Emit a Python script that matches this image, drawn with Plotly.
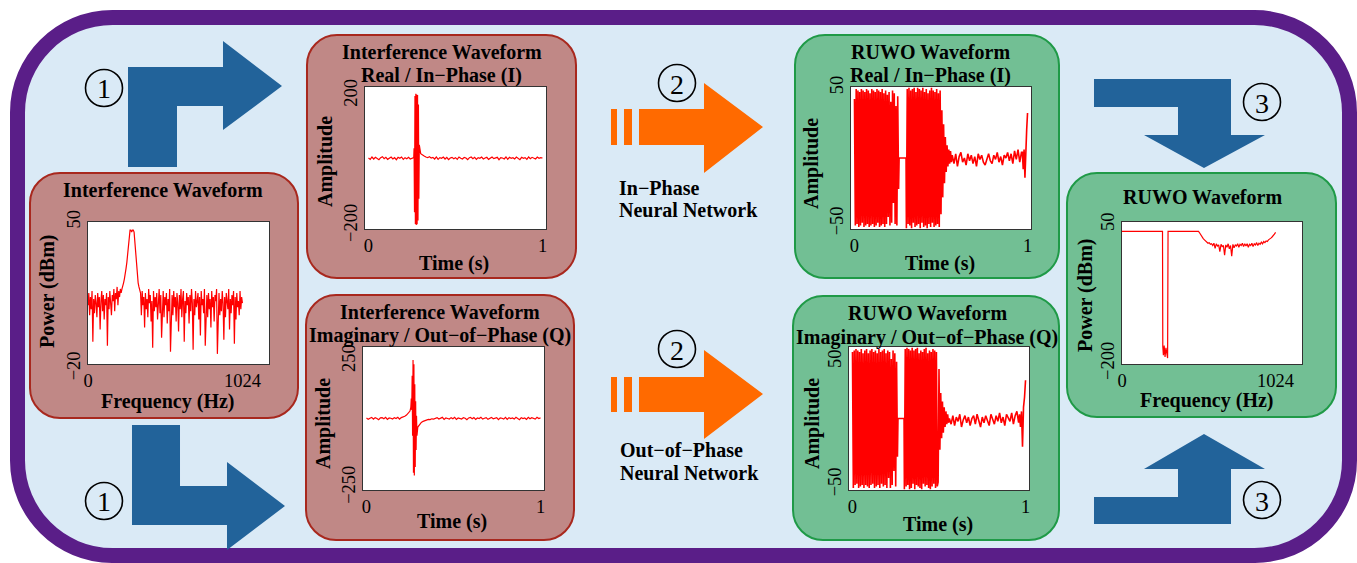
import numpy as np
import plotly.graph_objects as go

W, H = 1357, 563

# ---------------- data ----------------
# Interference spectrum (dBm) over 0..1024 Hz
spec_in_db = [
    9, 15, 4, 13, 7, 16, -9, 12, 5, 14,
    10, 3, 15, 8, 13, -3, 11, 16, 6, 14,
    2, 12, 9, 15, -11, 13, 7, 16, 10, 4,
    14, 11, 17, 6, 15, 12, 18, 9, 16, 13,
    17, 15,
    17, 18, 20, 22, 24, 27, 30, 34, 39, 44,
    46, 46, 45, 46, 46, 45,
    40, 33, 27, 23, 20, 18, 16, 15,
    4, 16, 9, 13, -2, 15, 7, 12, 3, 17,
    10, 14, 1, 11, -12, 16, 6, 13, 8, 15,
    2, 12, 17, 5, 14, -7, 10, 16, 3, 13,
    9, 15, 0, 12, 6, 17, -14, 11, 14, 4,
    16, 8, 13, 1, 15, 10, -4, 14, 7, 17,
    3, 12, 16, -9, 11, 5, 15, 9, 13, 0,
    14, 6, 17, 10, -13, 12, 4, 16, 8, 11,
    15, 2, 13, -6, 16, 9, 12, 5, 17, -11,
    10, 14, 3, 15, 7, 12, -2, 16, 8, 13,
    1, 14, 11, 17, -15, 9, 15, 4, 12, 6,
    16, 10, -8, 13, 3, 15, 11, 7, 17, -3,
    12, 5, 14, 9, 16, -10, 13, 2, 15, 8,
    11, 4, 16, 7, 13, 10,
]
spec_in_freq = np.linspace(0, 1024, len(spec_in_db))

# Interference waveform, in-phase (I)
intI_pre = [1, -3, 4, -2, 3, 0, -4, 2, 5, -1, 3, -3, 1, 4, -2, 2, -4, 3, 0, 4,
            -3, 2, -1, 3, -2, 1, 2]
intI_burst = [30, -160, 185, -195, 192, -198, 190, -196, 188, -185, 160, -120, 40]
intI_post = [14, 9, 7, 4, 2, 5, 1, 3, -2, 4,
             -3, 2, 0, 4, -2, 3, -4, 1, 3, -1,
             2, -3, 4, 0, -2, 3, 1, -4, 2, 4,
             -1, 3, -3, 2, 0, 4, -2, 1, 3, -3,
             2, 4, -1, 0, 3, -4, 2, 1, -2, 4,
             -3, 3, 0, 2, -2, 4, 1, -4, 3, 0,
             2, -3, 4, -1, 3, 1, -2, 4, 0, 2, 1]
intI_t = np.concatenate([np.linspace(0, 0.26, len(intI_pre)),
                         np.linspace(0.262, 0.292, len(intI_burst)),
                         np.linspace(0.30, 1.0, len(intI_post))])
intI_amp = intI_pre + intI_burst + intI_post

# Interference waveform, out-of-phase (Q)
intQ_pre = [2, -3, 1, 4, -2, 3, 0, -4, 2, 3, -1, 4, -3, 2, 1, -2, 3, 0, 4, -2,
            3, 5, 8, 12, 18, 26]
intQ_burst = [40, 70, 30, 150, -60, 205, -190, 190, -200, 120, -170, 60, -110, 10, -60]
intQ_post = [-30, -20, -14, -10, -7, -5, -3, -4, -1, -2,
             0, 3, -2, 1, 4, -3, 2, 0, -2, 3,
             -1, 4, -3, 2, 0, -2, 3, 1, -4, 2,
             4, -1, 3, -3, 2, 0, 4, -2, 1, 3,
             -3, 2, 4, -1, 0, 3, -4, 2, 1, -2,
             4, -3, 3, 0, 2, -2, 4, 1, -4, 3,
             0, 2, -3, 4, -1, 3, 1, -2, 4, 0, 2]
intQ_t = np.concatenate([np.linspace(0, 0.25, len(intQ_pre)),
                         np.linspace(0.255, 0.29, len(intQ_burst)),
                         np.linspace(0.295, 1.0, len(intQ_post))])
intQ_amp = intQ_pre + intQ_burst + intQ_post

# RUWO waveform, in-phase (I)
ruwoI_a = [42, -48, 49, -47, 48, -49, 47, -48, 49, -46,
           48, -49, 47, -48, 49, -47, 48, -49, 46, -48,
           49, -47, 48, -49, 47, -48, 49, -46, 48, -49,
           47, -48, 49, -47, 46, -49, 48, -47, 45, -42,
           47, -48, 40, -46, 48, -32, 46, -47, 37, -48,
           44, -22]
ruwoI_gap = [0, 0]
ruwoI_b = [-50, 49, -47, 50, -48, 48, -50, 49, -46, 50,
           -49, 47, -48, 50, -47, 49, -50, 48, -46, 50,
           -49, 47, -48, 49, -50, 46, -47, 48, -49, 50,
           -46, 48, -49, 47, -48, 49, -47, 46, -49, 48]
ruwoI_decay = [-40, 34, -28, 24, -18, 15, -10, 9, -6, 6, -4, 5, -3]
ruwoI_noise = [2, -4, 3, -6, 1, 4, -3, 0, -5, 3,
               -2, 2, -4, 1, -6, 3, -1, 2, -3, -5,
               0, 3, -2, -4, 2, -1, 4, -3, 1, -5,
               2, 0, 4, -2, 3, -4, 5, -1, 6, -3, 4]
ruwoI_end = [4, -8, 6, -14, 12, 20, 32]
ruwoI_t = np.concatenate([np.linspace(0, 0.255, len(ruwoI_a)),
                          [0.258, 0.298],
                          np.linspace(0.30, 0.495, len(ruwoI_b)),
                          np.linspace(0.50, 0.56, len(ruwoI_decay)),
                          np.linspace(0.565, 0.965, len(ruwoI_noise)),
                          np.linspace(0.97, 1.0, len(ruwoI_end))])
ruwoI_amp = ruwoI_a + ruwoI_gap + ruwoI_b + ruwoI_decay + ruwoI_noise + ruwoI_end

# RUWO waveform, out-of-phase (Q)
ruwoQ_a = [47, -49, 48, -47, 49, -46, 48, -49, 47, -48,
           49, -47, 46, -49, 48, -47, 49, -48, 46, -49,
           48, -47, 49, -46, 47, -49, 48, -48, 46, -47,
           49, -49, 47, -46, 48, -48, 49, -47, 46, -49,
           48, -42, 47, -49, 42, -47, 48, -37, 46, -48,
           40, -27]
ruwoQ_gap = [0, 0]
ruwoQ_b = [-50, 49, -48, 50, -47, 49, -50, 48, -49, 50,
           -46, 48, -50, 49, -47, 50, -48, 46, -49, 48,
           -50, 47, -46, 49, -48, 50, -47, 46, -49, 48,
           -50, 47, -48, 49, -46, 48, -49, 47, -48]
ruwoQ_decay = [-45, 35, -22, 18, -14, 12, -10, 8, -6, 5, -4, 3, -3]
ruwoQ_noise = [0, -4, 2, -5, 1, -2, 3, -6, -1, 2,
               -3, 1, -5, 0, 2, -4, 3, -2, -6, 1,
               -3, 2, -1, -5, 3, 0, -4, 2, -2, 4,
               -3, 1, -5, 3, 0, -2, 4, -4, 2, 5, -3]
ruwoQ_end = [3, -6, 5, -20, 8, 15, 27]
ruwoQ_t = np.concatenate([np.linspace(0, 0.26, len(ruwoQ_a)),
                          [0.263, 0.298],
                          np.linspace(0.30, 0.49, len(ruwoQ_b)),
                          np.linspace(0.495, 0.555, len(ruwoQ_decay)),
                          np.linspace(0.56, 0.96, len(ruwoQ_noise)),
                          np.linspace(0.965, 1.0, len(ruwoQ_end))])
ruwoQ_amp = ruwoQ_a + ruwoQ_gap + ruwoQ_b + ruwoQ_decay + ruwoQ_noise + ruwoQ_end

# RUWO spectrum
ruwo_notch_f = [0, 270, 272, 276, 281, 287, 293, 299, 304, 307, 505]
ruwo_notch_db = [34, 34, -170, -185, -168, -188, -172, -180, -190, 34, 34]
ruwo_bowl_db = [34, 31, 27, 24, 21, 19, 17, 15, 13, 14,
                11, 12, 9, 13, 4, 12, 8, 10, -2, 11,
                7, 9, -8, 10, 6, 12, 3, 9, -10, 11,
                5, 10, 8, 12, 6, 11, 9, 13, 7, 12,
                8, 12, 6, 11, 9, 13, 7, 12, 10, 14,
                9, 13, 11, 15, 12, 16, 14, 17, 16, 19,
                20, 22, 24, 26, 29, 32]
ruwo_spec_f = np.concatenate([ruwo_notch_f, np.linspace(510, 1024, len(ruwo_bowl_db))])
ruwo_spec_db = ruwo_notch_db + ruwo_bowl_db

# ---------------- styling ----------------
FONT = "Liberation Serif, Times New Roman, serif"
PURPLE = "#5A1E88"
BG_BLUE = "#DAEAF6"
RED_FILL = "#C08886"
RED_LINE = "#A8281E"
GREEN_FILL = "#72BF94"
GREEN_LINE = "#1F9A47"
BLUE = "#22639A"
ORANGE = "#FF6A00"
NB = "\u00a0"


def px(x):
    return x / W


def py(y):
    return 1 - y / H


def rrect(x0, y0, x1, y1, r):
    k = 0.5523 * r
    P = lambda x, y: f"{px(x):.5f},{py(y):.5f}"
    return (f"M {P(x0 + r, y0)} L {P(x1 - r, y0)} "
            f"C {P(x1 - r + k, y0)} {P(x1, y0 + r - k)} {P(x1, y0 + r)} "
            f"L {P(x1, y1 - r)} C {P(x1, y1 - r + k)} {P(x1 - r + k, y1)} {P(x1 - r, y1)} "
            f"L {P(x0 + r, y1)} C {P(x0 + r - k, y1)} {P(x0, y1 - r + k)} {P(x0, y1 - r)} "
            f"L {P(x0, y0 + r)} C {P(x0, y0 + r - k)} {P(x0 + r - k, y0)} {P(x0 + r, y0)} Z")


def poly(pts):
    s = " L ".join(f"{px(x):.5f},{py(y):.5f}" for x, y in pts)
    return f"M {s} Z"


shapes = []
# outer frame
shapes.append(dict(type="path", path=rrect(17.5, 17.5, 1349.5, 555.5, 95), xref="paper", yref="paper",
                   fillcolor=BG_BLUE, line=dict(color=PURPLE, width=15), layer="below"))

boxes = [
    (30, 173, 298, 418, RED_FILL, RED_LINE),
    (307, 35, 576, 278, RED_FILL, RED_LINE),
    (306, 295, 574, 540, RED_FILL, RED_LINE),
    (795, 35, 1059, 278, GREEN_FILL, GREEN_LINE),
    (793, 296, 1059, 540, GREEN_FILL, GREEN_LINE),
    (1067, 173, 1336, 417, GREEN_FILL, GREEN_LINE),
]
for x0, y0, x1, y1, fc, lc in boxes:
    shapes.append(dict(type="path", path=rrect(x0, y0, x1, y1, 30), xref="paper", yref="paper",
                       fillcolor=fc, line=dict(color=lc, width=2), layer="below"))

# plot areas (px): x0, x1, y0, y1
areas = [
    (88, 269, 222, 364),
    (365, 546, 87, 229),
    (363, 544, 347, 490),
    (851, 1031, 87, 229),
    (849, 1029, 347, 490),
    (1122, 1302, 222, 364),
]
for x0, x1, y0, y1 in areas:
    shapes.append(dict(type="rect", x0=px(x0), x1=px(x1), y0=py(y1), y1=py(y0), xref="paper", yref="paper",
                       fillcolor="white", line=dict(width=0), layer="below"))

# blue L-arrows
blue_arrows = [
    [(128, 167), (128, 67), (223, 67), (223, 41), (282, 86), (223, 130), (223, 106), (177, 106), (177, 167)],
    [(132, 425), (180, 425), (180, 486), (227, 486), (227, 462), (285, 506), (227, 550), (227, 525), (132, 525)],
    [(1094, 79), (1231, 79), (1231, 135), (1265, 135), (1204, 168), (1144, 135), (1178, 135), (1178, 107), (1094, 107)],
    [(1094, 524), (1231, 524), (1231, 469), (1265, 469), (1204, 434), (1144, 469), (1178, 469), (1178, 497), (1094, 497)],
]
for a in blue_arrows:
    shapes.append(dict(type="path", path=poly(a), xref="paper", yref="paper",
                       fillcolor=BLUE, line=dict(width=0), layer="below"))

# orange arrows
for yt, yb, hy0, hy1, tip in [(109, 145, 83, 173, 127), (377, 412, 350, 439, 394)]:
    for bx0, bx1 in [(611, 617), (624, 632)]:
        shapes.append(dict(type="rect", x0=px(bx0), x1=px(bx1), y0=py(yb), y1=py(yt), xref="paper", yref="paper",
                           fillcolor=ORANGE, line=dict(width=0), layer="below"))
    shapes.append(dict(type="path", xref="paper", yref="paper", fillcolor=ORANGE, line=dict(width=0), layer="below",
                       path=poly([(639, yt), (704, yt), (704, hy0), (763, tip), (704, hy1), (704, yb), (639, yb)])))

annotations = []
# circled step numbers
for cx, cy, num in [(104, 88, "1"), (104, 501, "1"), (677, 83, "2"), (677, 349, "2"),
                    (1262, 102, "3"), (1262, 500, "3")]:
    r = 18.5
    shapes.append(dict(type="circle", x0=px(cx - r), x1=px(cx + r), y0=py(cy + r), y1=py(cy - r),
                       xref="paper", yref="paper", line=dict(color="black", width=1.6), layer="below"))
    annotations.append(dict(text=num, x=px(cx), y=py(cy + 1), xref="paper", yref="paper", showarrow=False,
                            xanchor="center", yanchor="middle",
                            font=dict(family=FONT, size=28, color="black")))


def label(text, x, y, angle=0, anchor="center", size=20):
    annotations.append(dict(text=text, x=px(x), y=py(y), xref="paper", yref="paper", showarrow=False,
                            xanchor=anchor, yanchor="middle", textangle=angle,
                            font=dict(family=FONT, size=size, color="black", weight="bold")))


label("Interference Waveform", 163, 190)
label("Power (dBm)", 47, 291, -90)
label("Frequency (Hz)", 168, 401)

label("Interference Waveform", 442, 52)
label("Real / In\u2212Phase (I)", 442, 75)
label("Amplitude", 325, 162, -90)
label("Time (s)", 454, 263)

label("Interference Waveform", 440, 312)
label("Imaginary / Out\u2212of\u2212Phase (Q)", 440, 335)
label("Amplitude", 323, 424, -90)
label("Time (s)", 452, 521)

label("RUWO Waveform", 930, 52)
label("Real / In\u2212Phase (I)", 930, 75)
label("Amplitude", 812, 164, -90)
label("Time (s)", 940, 263)

label("RUWO Waveform", 927, 313)
label("Imaginary / Out\u2212of\u2212Phase (Q)", 927, 337)
label("Amplitude", 812, 424, -90)
label("Time (s)", 938, 524)

label("RUWO Waveform", 1202, 197)
label("Power (dBm)", 1085, 295, -90)
label("Frequency (Hz)", 1207, 400)

label("In\u2212Phase", 617, 188, anchor="left")
label("Neural Network", 617, 210, anchor="left")
label("Out\u2212of\u2212Phase", 618, 450, anchor="left")
label("Neural Network", 618, 473, anchor="left")

# ---------------- subplots ----------------
panels = [
    # x, y, xrange, xticks, xtext, yrange, yticks, ytext, line width
    (spec_in_freq, spec_in_db, [0, 1200], [0, 1024], ["0", "1024"], [-20, 50], [-20, 50],
     ["\u221220" + NB * 2, "50"], 1.2),
    (intI_t, intI_amp, [-0.02, 1.02], [0, 1], ["0", "1"], [-210, 212], [-200, 200],
     ["\u2212200", "200" + NB * 2], 1.2),
    (intQ_t, intQ_amp, [-0.02, 1.02], [0, 1], ["0", "1"], [-250.5, 250.5], [-250, 250],
     [NB + "\u2212250", "250" + NB * 6], 1.2),
    (ruwoI_t, ruwoI_amp, [-0.02, 1.02], [0, 1], ["0", "1"], [-50.5, 50.5], [-50, 50],
     [NB * 2 + "\u221250", "50"], 1.6),
    (ruwoQ_t, ruwoQ_amp, [-0.02, 1.02], [0, 1], ["0", "1"], [-50.5, 50.5], [-50, 50],
     [NB * 2 + "\u221250", "50" + NB * 6], 1.6),
    (ruwo_spec_f, ruwo_spec_db, [0, 1200], [0, 1024], ["0", "1024"], [-200.5, 50.5], [-200, 50],
     ["\u2212200", "50" + NB], 1.2),
]

fig = go.Figure()
layout_axes = {}
tickfont = dict(family=FONT, size=18.5, color="black")
for i, (xv, yv, xr, xt, xtt, yr, yt, ytt, lw) in enumerate(panels, start=1):
    sfx = "" if i == 1 else str(i)
    x0, x1, y0, y1 = areas[i - 1]
    fig.add_trace(go.Scatter(x=xv, y=yv, mode="lines", line=dict(color="#FF0000", width=lw),
                             xaxis="x" + sfx, yaxis="y" + sfx, hoverinfo="skip", showlegend=False))
    common = dict(showline=True, mirror=True, linecolor="#333333", linewidth=1.2, showgrid=False,
                  zeroline=False, ticks="", tickfont=tickfont, fixedrange=True, automargin=False)
    layout_axes["xaxis" + sfx] = dict(domain=[px(x0), px(x1)], range=xr, tickvals=xt, ticktext=xtt,
                                      anchor="y" + sfx, **common)
    layout_axes["yaxis" + sfx] = dict(domain=[py(y1), py(y0)], range=yr, tickvals=yt, ticktext=ytt,
                                      anchor="x" + sfx, tickangle=-90, **common)

fig.update_layout(
    width=W, height=H, autosize=False,
    margin=dict(l=0, r=0, t=0, b=0, pad=0, autoexpand=False),
    paper_bgcolor="white", plot_bgcolor="rgba(0,0,0,0)",
    shapes=shapes, annotations=annotations, showlegend=False,
    **layout_axes,
)

fig.write_html("out.html", config={"displayModeBar": False},
               post_script="document.body.style.margin='0';")
